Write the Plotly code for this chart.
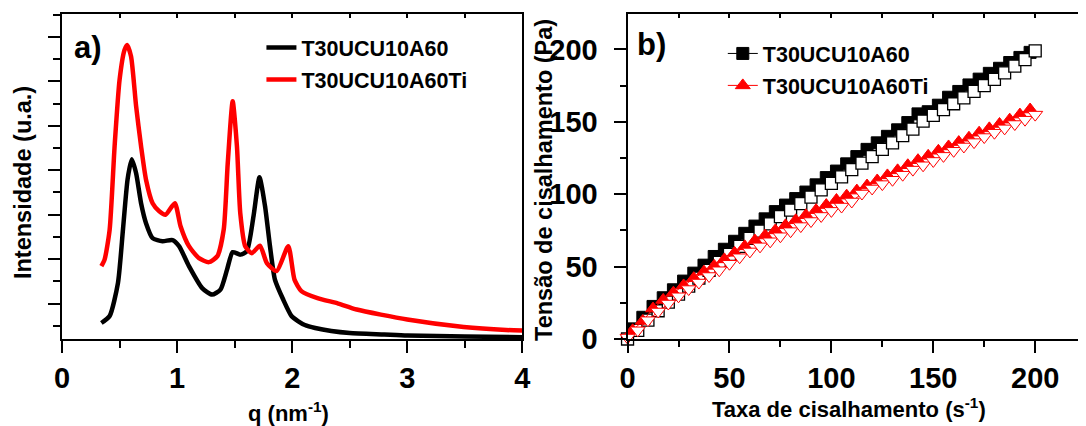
import plotly.graph_objects as go

# ---------------- panel a: SAXS intensity ----------------
q_black = [0.342, 0.414, 0.486, 0.53, 0.57, 0.606, 0.644, 0.687, 0.73, 0.787, 0.873, 0.96, 1.017,
           1.103, 1.218, 1.304, 1.377, 1.434, 1.483, 1.549, 1.606, 1.664, 1.716, 1.764, 1.807,
           1.85, 1.922, 1.994, 2.05, 2.11, 2.2, 2.34, 2.5, 2.8, 3.0, 3.5, 4.0]
i_black = [16, 23, 56, 110, 160, 180, 166, 136, 116, 101, 98, 99, 93,
           73, 51, 44.5, 49.5, 69.5, 87, 84.5, 88, 123, 162, 133, 93,
           59.5, 39.5, 23, 18, 14, 11, 8, 6, 4.5, 3.5, 2.5, 1.8]
q_red = [0.342, 0.37, 0.414, 0.457, 0.5, 0.543, 0.566, 0.6, 0.644, 0.687, 0.73, 0.787, 0.845,
         0.9, 0.98, 1.03, 1.103, 1.19, 1.276, 1.35, 1.405, 1.44, 1.483, 1.52, 1.549, 1.592,
         1.65, 1.72, 1.78, 1.865, 1.966, 2.02, 2.08, 2.22, 2.4, 2.56, 3.0, 3.49, 3.86, 4.0]
i_red = [73, 79.5, 109.5, 193, 259.5, 289.5, 294.5, 283, 233, 193, 159.5, 136, 128,
         124.5, 136, 113, 93, 81, 77, 83, 109.5, 176, 238, 193, 126, 93,
         86, 93.5, 76, 68, 93, 59.5, 48, 41, 35.5, 29.5, 19.5, 12, 9, 8.5]

# ---------------- panel b: flow curves ----------------
rate_up = [2.5, 7.5, 12.5, 17.5, 22.5, 27.5, 32.5, 37.5, 42.5, 47.5,
           52.5, 57.5, 62.5, 67.5, 72.5, 77.5, 82.5, 87.5, 92.5, 97.5,
           102.5, 107.5, 112.5, 117.5, 122.5, 127.5, 132.5, 137.5, 142.5, 147.5,
           152.5, 157.5, 162.5, 167.5, 172.5, 177.5, 182.5, 187.5, 192.5, 197.5]
rate_down = [0, 5, 10, 15, 20, 25, 30, 35, 40, 45, 50, 55, 60, 65, 70, 75, 80, 85, 90, 95,
             100, 105, 110, 115, 120, 125, 130, 135, 140, 145, 150, 155, 160, 165, 170, 175,
             180, 185, 190, 195, 200]
stress_black_up = [7, 15, 22.5, 28.5, 34, 40, 45.5, 51, 57, 62,
                   67.5, 73, 78, 83, 88, 92.5, 97, 101.5, 106.5, 111.5,
                   116, 121, 126, 131, 135.5, 140, 144.5, 149.5, 155.5, 157,
                   161.5, 167, 171, 175.5, 179.5, 183.5, 187, 191, 194.5, 198]
stress_black_down = [0, 6, 13, 19.5, 25.5, 31, 36.5, 42, 47.5, 53, 58.5, 64, 69.5, 74.5, 79.5,
                     84.5, 89, 93.5, 98, 103, 107.5, 112, 117, 121.5, 126, 131, 135.5, 140.5,
                     145, 150.5, 154.5, 158.5, 162.5, 166.5, 171, 175, 179.3, 183.9, 188.5, 193, 199]
stress_red_up = [6, 12.5, 21, 27, 32, 37, 42, 46.5, 50.5, 55,
                 59.5, 64, 68, 71.5, 75, 78.5, 82, 85.5, 89, 92.5,
                 96, 99, 102.5, 106, 109.5, 113, 116.5, 120, 123.5, 126.5,
                 130, 133, 136, 139, 142.5, 145.5, 148.5, 151.5, 155, 158.5]
stress_red_down = [1, 6, 13, 19, 24.5, 29.5, 34.5, 39, 43.5, 47.5, 52, 56.5, 60.5, 64, 67.5,
                   71, 74.5, 78, 81.5, 85, 88.5, 91.5, 95, 100.5, 104, 107, 110, 113.5,
                   117, 120, 123, 126.5, 130, 133, 136, 139.5, 142.5, 145.5, 148.5, 151.5, 155]

name_a = "T30UCU10A60"
name_b = "T30UCU10A60Ti"

FONT = "Liberation Sans, Arial, sans-serif"
W, H = 1086, 426
ML, MR, MT, MB = 62, 0, 14, 86.5
PW, PH = W - ML - MR, H - MT - MB


def px(x):
    return (x - ML) / PW


def py(y):
    return (H - MB - y) / PH


fig = go.Figure()

# panel a curves
fig.add_trace(go.Scatter(x=q_black, y=i_black, mode="lines", name=name_a,
                         line=dict(color="black", width=4.5, shape="spline", smoothing=0.6),
                         xaxis="x", yaxis="y", legend="legend", legendgroup="a1"))
fig.add_trace(go.Scatter(x=q_red, y=i_red, mode="lines", name=name_b,
                         line=dict(color="#ff0000", width=4.5, shape="spline", smoothing=0.6),
                         xaxis="x", yaxis="y", legend="legend", legendgroup="a2"))

# panel b
fig.add_trace(go.Scatter(x=rate_up, y=stress_black_up, mode="lines+markers", name=name_a,
                         line=dict(color="black", width=1),
                         marker=dict(symbol="square", size=12, color="black",
                                     line=dict(color="black", width=1)),
                         cliponaxis=False, xaxis="x2", yaxis="y2", legend="legend2", legendgroup="b1"))
fig.add_trace(go.Scatter(x=rate_down, y=stress_black_down, mode="lines+markers", showlegend=False,
                         line=dict(color="black", width=1),
                         marker=dict(symbol="square", size=12, color="white",
                                     line=dict(color="black", width=1.3)),
                         cliponaxis=False, xaxis="x2", yaxis="y2"))
fig.add_trace(go.Scatter(x=rate_up, y=stress_red_up, mode="lines+markers", name=name_b,
                         line=dict(color="#ff0000", width=1),
                         marker=dict(symbol="triangle-up", size=13, color="#ff0000",
                                     line=dict(color="#ff0000", width=1)),
                         cliponaxis=False, xaxis="x2", yaxis="y2", legend="legend2", legendgroup="b2"))
fig.add_trace(go.Scatter(x=rate_down, y=stress_red_down, mode="lines+markers", showlegend=False,
                         line=dict(color="#ff0000", width=1),
                         marker=dict(symbol="triangle-down", size=13, color="white",
                                     line=dict(color="#ff0000", width=1)),
                         cliponaxis=False, xaxis="x2", yaxis="y2"))

# empty traces to activate top (mirror) axes
fig.add_trace(go.Scatter(x=[None], y=[None], xaxis="x3", yaxis="y", showlegend=False))
fig.add_trace(go.Scatter(x=[None], y=[None], xaxis="x4", yaxis="y2", showlegend=False))

tickfont = dict(family=FONT, size=29, color="black", weight="bold")
dom_a = [0, px(526)]
dom_b = [px(632), 1.0]

common = dict(showgrid=False, zeroline=False, showline=True, linecolor="black", linewidth=2,
              ticks="outside", tickcolor="black", tickwidth=2, ticklen=12, tickfont=tickfont)

fig.update_layout(
    width=W, height=H,
    margin=dict(l=ML, r=MR, t=MT, b=MB, pad=0),
    paper_bgcolor="white", plot_bgcolor="white",
    font=dict(family=FONT, color="black"),
    xaxis=dict(domain=dom_a, range=[0, 4], anchor="y", tickvals=[0, 1, 2, 3, 4],
               minor=dict(dtick=0.5, tick0=0, ticks="outside", ticklen=7, tickwidth=2, tickcolor="black"),
               ticklabelstandoff=0, **common),
    yaxis=dict(domain=[0, 1], range=[0, 325.5], anchor="x", mirror=True, showticklabels=False,
               tick0=35.5, dtick=44.5,
               minor=dict(dtick=22.25, tick0=13.25, ticks="outside", ticklen=7, tickwidth=2, tickcolor="black"),
               **{k: v for k, v in common.items() if k != "tickfont"}),
    xaxis3=dict(domain=dom_a, range=[0, 4], overlaying="x", anchor="y", side="top",
                showgrid=False, zeroline=False, showline=True, linecolor="black", linewidth=2,
                ticks="inside", ticklen=4, tickwidth=2, tickcolor="black", dtick=0.5, tick0=0,
                showticklabels=False),
    xaxis2=dict(domain=dom_b, range=[0, 221], anchor="y2", tickvals=[0, 50, 100, 150, 200],
                minor=dict(dtick=25, tick0=0, ticks="outside", ticklen=6, tickwidth=2, tickcolor="black"),
                ticklabelstandoff=0, **common),
    yaxis2=dict(domain=[0, 1], range=[0, 224.5], anchor="x2", tickvals=[0, 50, 100, 150, 200],
                minor=dict(dtick=25, tick0=0, ticks="outside", ticklen=6, tickwidth=2, tickcolor="black"),
                ticklabelstandoff=10, **common),
    xaxis4=dict(domain=dom_b, range=[0, 221], overlaying="x2", anchor="y2", side="top",
                showgrid=False, zeroline=False, showline=True, linecolor="black", linewidth=2,
                ticks="inside", ticklen=4, tickwidth=2, tickcolor="black", dtick=25, tick0=0,
                showticklabels=False),
    legend=dict(x=px(263), y=py(27), xanchor="left", yanchor="top", bgcolor="rgba(0,0,0,0)",
                font=dict(family=FONT, size=21.5, color="black", weight="bold"),
                tracegroupgap=1, borderwidth=0),
    legend2=dict(x=px(728), y=py(33), xanchor="left", yanchor="top", bgcolor="rgba(0,0,0,0)",
                 font=dict(family=FONT, size=21.5, color="black", weight="bold"),
                 tracegroupgap=1, borderwidth=0),
    showlegend=True,
)

ann_font = dict(family=FONT, size=22, color="black", weight="bold")
ann_font_y = dict(family=FONT, size=23.5, color="black", weight="bold")
annotations = [
    dict(text="Intensidade (u.a.)", x=px(22), y=py(183), textangle=-90, font=ann_font_y),
    dict(text="q (nm<sup>-1</sup>)", x=px(290), y=py(413), font=ann_font),
    dict(text="Tensão de cisalhamento (Pa)", x=px(548), y=py(180), textangle=-90, font=ann_font_y),
    dict(text="Taxa de cisalhamento (s<sup>-1</sup>)", x=px(855), y=py(409), font=ann_font),
    dict(text="a)", x=px(88), y=py(48), font=dict(family=FONT, size=31, color="black", weight="bold")),
    dict(text="b)", x=px(656), y=py(45), font=dict(family=FONT, size=31, color="black", weight="bold")),
]
for a in annotations:
    a.update(xref="paper", yref="paper", showarrow=False, xanchor="center", yanchor="middle")
fig.update_layout(annotations=annotations)

fig.write_html("out.html")
